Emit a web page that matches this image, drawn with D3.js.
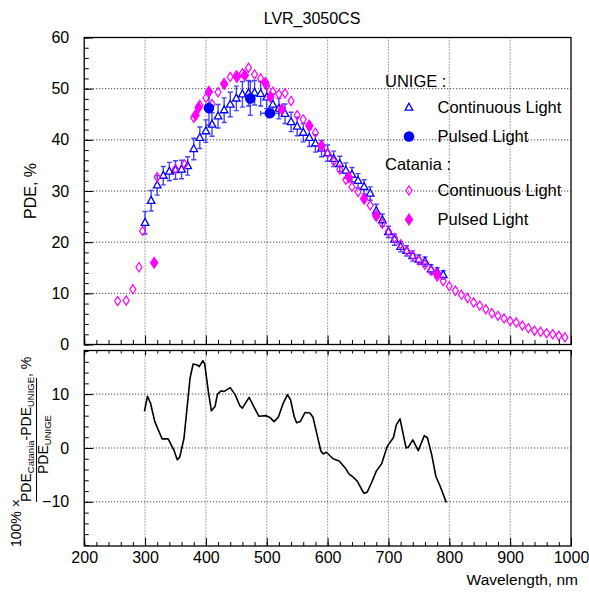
<!DOCTYPE html>
<html>
<head>
<meta charset="utf-8">
<script src="https://cdn.jsdelivr.net/npm/d3@7"></script>
<style>
body { margin: 0; background: #fff; }
svg { font-family: "Liberation Sans", Arial, Helvetica, sans-serif; }
</style>
</head>
<body>
<svg id="chart" width="589" height="594"></svg>
<script>
// UNIGE, continuous light (open triangles with error bars)
const unige_wl = [300, 310, 320, 330, 340, 350, 360, 370, 380, 390,
    400, 410, 420, 430, 440, 450, 460, 470, 480, 490,
    500, 510, 520, 530, 540, 550, 560, 570, 580, 590,
    600, 610, 620, 630, 640, 650, 660, 670, 680, 690,
    700, 710, 720, 730, 740, 750, 760, 770, 780, 790]
const unige_pde = [23.8, 28.1, 31.1, 33.0, 33.8, 34.1, 34.2, 34.9, 38.2, 40.4,
    41.7, 43.0, 44.6, 45.8, 46.9, 48.1, 48.9, 49.1, 49.2, 49.0,
    48.3, 46.9, 46.1, 45.1, 43.5, 42.6, 41.4, 40.4, 39.3, 38.3,
    37.4, 36.3, 35.3, 34.0, 33.2, 32.0, 30.8, 29.5, 26.1, 24.3,
    22.0, 20.5, 19.1, 18.3, 17.3, 16.6, 16.2, 14.7, 14.2, 13.6]
const unige_err = [2.2, 2.0, 1.9, 1.8, 1.8, 1.8, 1.8, 1.8, 2.1, 2.1,
    2.2, 2.3, 2.3, 2.4, 2.4, 2.4, 2.5, 2.5, 2.4, 2.4,
    2.2, 2.0, 2.0, 1.9, 1.9, 1.8, 1.8, 1.7, 1.7, 1.6,
    1.6, 1.5, 1.5, 1.5, 1.4, 1.4, 1.4, 1.3, 1.3, 1.2,
    1.1, 1.1, 1.0, 1.0, 1.0, 0.9, 0.9, 0.9, 0.8, 0.8]

// UNIGE, pulsed light (filled circles)
const unige_pulsed_wl = [405, 473, 505]
const unige_pulsed_pde = [46.2, 48.1, 45.2]
const unige_pulsed_xerr = [0, 0, 15]
const unige_pulsed_yerr = [3.3, 3.3, 0.4]

// Catania, continuous light (open diamonds)
const catania_wl = [255, 269, 280, 290, 296, 320, 350, 365, 380, 390,
    400, 410, 420, 430, 440, 450, 460, 470, 480, 490,
    500, 510, 520, 530, 540, 550, 560, 570, 580, 590,
    600, 610, 620, 630, 640, 650, 660, 670, 680, 690,
    700, 710, 720, 730, 740, 750, 760, 770, 780, 790,
    800, 810, 820, 830, 840, 850, 860, 870, 880, 890,
    900, 910, 920, 930, 940, 950, 960, 970, 980, 990]
const catania_pde = [8.5, 8.6, 10.8, 15.1, 22.2, 32.7, 34.3, 35.2, 44.3, 46.8,
    48.2, 47.0, 49.3, 51.0, 52.3, 52.6, 53.0, 54.1, 52.8, 52.0,
    50.5, 49.4, 48.9, 49.1, 47.6, 44.8, 44.0, 42.6, 41.4, 39.0,
    37.4, 35.8, 34.2, 32.2, 30.8, 29.8, 28.5, 27.2, 25.3, 23.6,
    22.1, 20.8, 19.6, 18.3, 17.4, 16.4, 15.6, 14.4, 13.3, 12.4,
    11.4, 10.5, 9.7, 9.1, 8.2, 7.6, 6.9, 6.1, 5.6, 5.1,
    4.6, 4.3, 3.7, 3.2, 2.7, 2.5, 2.2, 2.0, 1.7, 1.4]

// Catania, pulsed light (filled diamonds)
const catania_pulsed_wl = [315, 383, 388, 405, 430, 451, 464, 498, 506, 525, 570, 590, 635, 660, 680, 780]
const catania_pulsed_pde = [16.0, 44.8, 46.3, 49.4, 50.9, 52.3, 52.6, 51.1, 48.4, 46.0, 42.8, 38.8, 32.7, 28.5, 25.1, 13.8]

// relative difference (Catania - UNIGE) / UNIGE, %
const ratio_wl = [299, 304, 309, 316, 325, 328, 338, 347, 353, 357,
    364, 374, 379, 386, 389, 395, 398, 404, 409, 415,
    419, 425, 430, 440, 448, 456, 460, 471, 480, 487,
    499, 506, 512, 519, 527, 534, 539, 545, 549, 555,
    563, 571, 576, 582, 589, 593, 598, 609, 619, 629,
    635, 641, 649, 656, 660, 665, 672, 680, 689, 698,
    708, 713, 719, 729, 733, 740, 749, 759, 764, 771,
    778, 785, 795]
const ratio_val = [6.8, 9.6, 8.3, 4.9, 2.5, 1.7, 1.7, -0.3, -2.2, -1.7,
    1.8, 13.0, 15.6, 15.4, 15.1, 16.2, 15.6, 10.5, 6.9, 7.7,
    10.0, 10.6, 10.5, 11.2, 9.9, 7.8, 7.4, 9.4, 7.4, 5.9,
    6.0, 5.6, 4.9, 5.7, 8.3, 9.9, 9.0, 5.9, 4.7, 4.9,
    6.6, 6.5, 5.7, 2.8, -0.6, -1.1, -0.8, -2.0, -2.4, -3.7,
    -4.8, -5.3, -6.2, -7.7, -8.4, -8.2, -6.5, -4.3, -2.9, 0.3,
    1.9, 4.3, 5.4, 0.0, 0.2, 1.5, -0.5, 2.3, 1.9, -1.2,
    -5.3, -7.1, -10.1]

const x_ticks = [200, 300, 400, 500, 600, 700, 800, 900, 1000]
const top_y_ticks = [0, 10, 20, 30, 40, 50, 60]
const bottom_y_ticks = [-10, 0, 10]

const legend_groups = ["UNIGE :", "Catania :"]
const legend_entries = ["Continuous Light", "Pulsed Light", "Continuous Light", "Pulsed Light"]

const BLUE = "#0000ff"
const MAGENTA = "#ff00ff"

let svg = d3.select("#chart")

const frame = {left: 84.2, right: 571}
const top_panel = {top: 37.5, bottom: 344.5}
const bottom_panel = {top: 350.5, bottom: 546}

let xScale = d3.scaleLinear().domain([200, 1000]).range([frame.left, frame.right])
let yTop = d3.scaleLinear().domain([0, 60]).range([top_panel.bottom, top_panel.top])
let yBottom = d3.scaleLinear().domain([-18.2, 18.1]).range([bottom_panel.bottom, bottom_panel.top])

const triangle = "M0,-4.3L3.8,2.6L-3.8,2.6Z"
const open_diamond = "M0,-4.6L3,0L0,4.6L-3,0Z"
const fat_diamond = "M0,-6.5L4.3,0L0,6.5L-4.3,0Z"

function minor_ticks(lo, hi, step) {
    return d3.range(lo, hi + step / 2, step)
}

function draw_grid(g, yScale, yVals, panel) {
    g.append("g")
        .selectAll("line")
        .data(x_ticks.slice(1, -1))
        .enter()
        .append("line")
        .attr("x1", d => xScale(d))
        .attr("x2", d => xScale(d))
        .attr("y1", panel.top)
        .attr("y2", panel.bottom)
        .attr("stroke", "#555")
        .attr("stroke-dasharray", "1,2")

    g.append("g")
        .selectAll("line")
        .data(yVals)
        .enter()
        .append("line")
        .attr("x1", frame.left)
        .attr("x2", frame.right)
        .attr("y1", d => yScale(d))
        .attr("y2", d => yScale(d))
        .attr("stroke", "#222")
        .attr("stroke-dasharray", "1,2")
}

function draw_axes(g, yScale, yMajor, yMinor, panel, opts) {
    // ticks drawn inside the frame, ROOT style
    g.append("g")
        .attr("transform", `translate(${frame.left},0)`)
        .call(d3.axisLeft(yScale).tickValues(yMinor).tickSize(-4.5).tickFormat(""))
    g.append("g")
        .attr("transform", `translate(${frame.left},0)`)
        .call(d3.axisLeft(yScale).tickValues(yMajor).tickSize(-9).tickPadding(15)
            .tickFormat(d => d < 0 ? "\u2212" + Math.abs(d) : d))

    let xMinor = minor_ticks(200, 1000, 20)
    g.append("g")
        .attr("transform", `translate(0,${panel.bottom})`)
        .call(d3.axisBottom(xScale).tickValues(xMinor).tickSize(-opts.xMinor).tickFormat(""))
    let xb = g.append("g")
        .attr("transform", `translate(0,${panel.bottom})`)
        .call(d3.axisBottom(xScale).tickValues(x_ticks).tickSize(-opts.xMajor).tickPadding(6)
            .tickFormat(d3.format("d")))
    if (!opts.xLabels) xb.selectAll("text").remove()

    if (opts.topTicks) {
        g.append("g")
            .attr("transform", `translate(0,${panel.top})`)
            .call(d3.axisTop(xScale).tickValues(xMinor).tickSize(-3).tickFormat(""))
        g.append("g")
            .attr("transform", `translate(0,${panel.top})`)
            .call(d3.axisTop(xScale).tickValues(x_ticks).tickSize(-5).tickFormat(""))
    }

    g.selectAll(".domain").remove()
    g.selectAll(".tick line").attr("stroke", "#000")
    g.selectAll(".tick text")
        .attr("font-size", 16)
        .attr("font-family", "'Liberation Sans', Arial, sans-serif")
        .attr("fill", "#000")

    g.append("rect")
        .attr("x", frame.left)
        .attr("y", panel.top)
        .attr("width", frame.right - frame.left)
        .attr("height", panel.bottom - panel.top)
        .attr("fill", "none")
        .attr("stroke", "#000")
        .attr("stroke-width", 1.3)
}

function draw_error_bars(g, pts, yScale, color, cap) {
    // vertical
    g.append("g")
        .selectAll("path.ey")
        .data(pts.filter(d => d.ey > 0))
        .enter()
        .append("path")
        .attr("d", d => {
            let x = xScale(d.x), y1 = yScale(d.y - d.ey), y2 = yScale(d.y + d.ey)
            return `M${x},${y1}V${y2}M${x - cap},${y1}H${x + cap}M${x - cap},${y2}H${x + cap}`
        })
        .attr("fill", "none")
        .attr("stroke", color)
        .attr("stroke-width", 1.4)
    // horizontal
    g.append("g")
        .selectAll("path.ex")
        .data(pts.filter(d => d.ex > 0))
        .enter()
        .append("path")
        .attr("d", d => {
            let y = yScale(d.y), x1 = xScale(d.x - d.ex), x2 = xScale(d.x + d.ex)
            return `M${x1},${y}H${x2}M${x1},${y - cap}V${y + cap}M${x2},${y - cap}V${y + cap}`
        })
        .attr("fill", "none")
        .attr("stroke", color)
        .attr("stroke-width", 1.4)
}

function draw_top() {
    let g = svg.append("g")
    draw_grid(g, yTop, top_y_ticks.slice(1, -1), top_panel)

    let unige = unige_wl.map((w, i) => ({x: w, y: unige_pde[i], ex: 0, ey: unige_err[i]}))
    let unige_pulsed = unige_pulsed_wl.map((w, i) => ({x: w, y: unige_pulsed_pde[i], ex: unige_pulsed_xerr[i], ey: unige_pulsed_yerr[i]}))
    let catania = catania_wl.map((w, i) => ({x: w, y: catania_pde[i]}))
    let catania_pulsed = catania_pulsed_wl.map((w, i) => ({x: w, y: catania_pulsed_pde[i]}))

    let data_g = g.append("g")

    // UNIGE continuous
    draw_error_bars(data_g, unige, yTop, "rgba(20,20,255,0.8)", 2.5)
    data_g.append("g")
        .selectAll("path")
        .data(unige)
        .enter()
        .append("path")
        .attr("transform", d => `translate(${xScale(d.x)},${yTop(d.y)})`)
        .attr("d", triangle)
        .attr("fill", "#fff")
        .attr("stroke", BLUE)
        .attr("stroke-width", 1.3)

    // Catania continuous
    data_g.append("g")
        .selectAll("path")
        .data(catania)
        .enter()
        .append("path")
        .attr("transform", d => `translate(${xScale(d.x)},${yTop(d.y)})`)
        .attr("d", open_diamond)
        .attr("fill", "none")
        .attr("stroke", MAGENTA)
        .attr("stroke-width", 1.2)

    // UNIGE pulsed
    draw_error_bars(data_g, unige_pulsed, yTop, "rgba(20,20,255,0.75)", 2.5)
    data_g.append("g")
        .selectAll("circle")
        .data(unige_pulsed)
        .enter()
        .append("circle")
        .attr("cx", d => xScale(d.x))
        .attr("cy", d => yTop(d.y))
        .attr("r", 5.3)
        .attr("fill", BLUE)

    // Catania pulsed
    data_g.append("g")
        .selectAll("path")
        .data(catania_pulsed)
        .enter()
        .append("path")
        .attr("transform", d => `translate(${xScale(d.x)},${yTop(d.y)})`)
        .attr("d", fat_diamond)
        .attr("fill", MAGENTA)

    draw_axes(g, yTop, top_y_ticks, minor_ticks(0, 60, 2), top_panel,
        {xMajor: 9, xMinor: 4.5, xLabels: false, topTicks: false})

    // titles
    svg.append("text")
        .attr("x", 312)
        .attr("y", 24)
        .attr("text-anchor", "middle")
        .attr("font-size", 16)
        .text("LVR_3050CS")

    svg.append("text")
        .attr("transform", `translate(36,${(top_panel.top + top_panel.bottom) / 2}) rotate(-90)`)
        .attr("text-anchor", "middle")
        .attr("font-size", 16)
        .text("PDE, %")

    draw_legend(g)
}

function draw_legend(g) {
    let lg = g.append("g")
    let rows = [
        {type: "head", text: legend_groups[0], y: 87},
        {type: "tri", text: legend_entries[0], y: 113},
        {type: "circ", text: legend_entries[1], y: 142},
        {type: "head", text: legend_groups[1], y: 169.5},
        {type: "odia", text: legend_entries[2], y: 196},
        {type: "fdia", text: legend_entries[3], y: 225}
    ]
    rows.forEach(r => {
        if (r.type === "head") {
            lg.append("text").attr("x", 385).attr("y", r.y).attr("font-size", 16.5).text(r.text)
            return
        }
        let my = r.y - 5.5
        if (r.type === "tri") {
            lg.append("path").attr("transform", `translate(409,${my})`).attr("d", triangle)
                .attr("fill", "#fff").attr("stroke", BLUE).attr("stroke-width", 1.3)
        } else if (r.type === "circ") {
            lg.append("circle").attr("cx", 409).attr("cy", my).attr("r", 5.3).attr("fill", BLUE)
        } else if (r.type === "odia") {
            lg.append("path").attr("transform", `translate(409,${my})`).attr("d", open_diamond)
                .attr("fill", "none").attr("stroke", MAGENTA).attr("stroke-width", 1.2)
        } else {
            lg.append("path").attr("transform", `translate(409,${my})`).attr("d", fat_diamond)
                .attr("fill", MAGENTA)
        }
        lg.append("text").attr("x", 437.5).attr("y", r.y).attr("font-size", 16.5).text(r.text)
    })
}

function draw_bottom() {
    let g = svg.append("g")
    draw_grid(g, yBottom, bottom_y_ticks, bottom_panel)

    let pts = ratio_wl.map((w, i) => ({x: w, y: ratio_val[i]}))
    let line = d3.line()
        .x(d => xScale(d.x))
        .y(d => yBottom(d.y))

    g.append("path")
        .datum(pts)
        .attr("d", line)
        .attr("fill", "none")
        .attr("stroke", "#000")
        .attr("stroke-width", 1.6)
        .attr("stroke-linejoin", "round")

    draw_axes(g, yBottom, bottom_y_ticks, minor_ticks(-18, 18, 2), bottom_panel,
        {xMajor: 8, xMinor: 4, xLabels: true, topTicks: true})

    svg.append("text")
        .attr("x", 578)
        .attr("y", 585)
        .attr("text-anchor", "end")
        .attr("font-size", 15.5)
        .text("Wavelength, nm")

    // y title: 100% x (PDE_Catania - PDE_UNIGE) / PDE_UNIGE, %
    let t = svg.append("g").attr("transform", "rotate(-90)")
    t.append("text")
        .attr("x", -547)
        .attr("y", 21)
        .attr("font-size", 14)
        .text("100% \u00d7")

    let num = t.append("text")
        .attr("x", -502)
        .attr("y", 31)
        .attr("font-size", 14)
    num.append("tspan").text("PDE")
    num.append("tspan").attr("font-size", 9.5).attr("dy", 3).text("Catania")
    num.append("tspan").attr("dy", -3).text("-PDE")
    num.append("tspan").attr("font-size", 9.5).attr("dy", 3).text("UNIGE")
    num.append("tspan").attr("dy", -3).text(", %")

    t.append("line")
        .attr("x1", -502)
        .attr("x2", -378)
        .attr("y1", 36.5)
        .attr("y2", 36.5)
        .attr("stroke", "#000")
        .attr("stroke-width", 1)

    let den = t.append("text")
        .attr("x", -474)
        .attr("y", 48)
        .attr("font-size", 14)
    den.append("tspan").text("PDE")
    den.append("tspan").attr("font-size", 9.5).attr("dy", 3).text("UNIGE")
}

draw_top()
draw_bottom()
</script>
</body>
</html>
